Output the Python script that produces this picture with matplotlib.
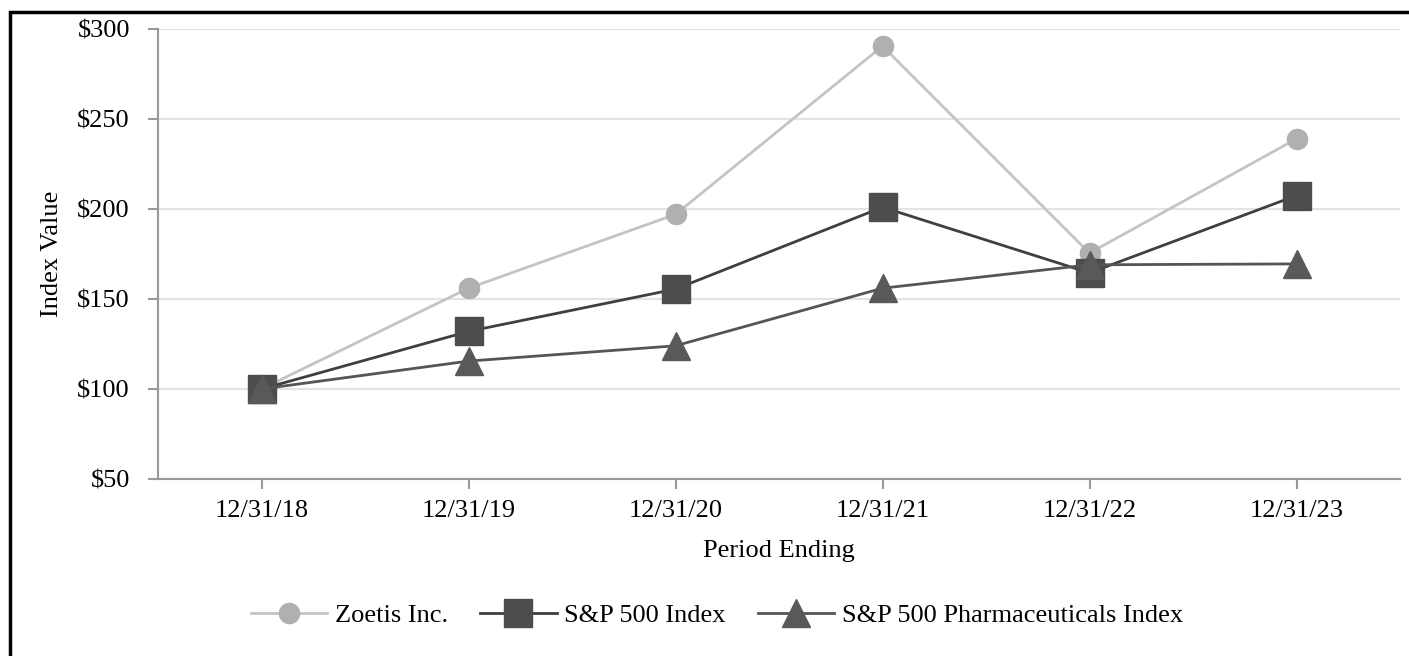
import matplotlib
matplotlib.use("Agg")
import matplotlib.pyplot as plt
from matplotlib.patches import Rectangle

periods = ["12/31/18", "12/31/19", "12/31/20", "12/31/21", "12/31/22", "12/31/23"]
zoetis = [100, 156, 197, 290.5, 175.5, 239]
sp500 = [100, 132, 155.5, 201, 164.5, 207.5]
pharma = [100, 115.5, 124, 156, 169, 169.5]
yticks = [50, 100, 150, 200, 250, 300]
ytick_labels = ["$50", "$100", "$150", "$200", "$250", "$300"]

plt.rcParams['font.family'] = ['Liberation Serif', 'DejaVu Serif']

W, H = 1409, 656
FS = 19
fig = plt.figure(figsize=(W / 100, H / 100), dpi=100)
ax = fig.add_axes([158 / W, 1 - 479 / H, (1400 - 158) / W, (479 - 29) / H])

x = list(range(len(periods)))
ax.plot(x, zoetis, color="#c4c4c4", lw=2, marker="o", ms=14.5,
        mfc="#b0b0b0", mec="#b0b0b0", label="Zoetis Inc.", zorder=3)
ax.plot(x, sp500, color="#3f3f3f", lw=2, marker="s", ms=20,
        mfc="#4d4d4d", mec="#4d4d4d", label="S&P 500 Index", zorder=4)
ax.plot(x, pharma, color="#555555", lw=2, marker="^", ms=19.5,
        mfc="#595959", mec="#595959", label="S&P 500 Pharmaceuticals Index", zorder=5)

ax.set_xlim(-0.5, 5.5)
ax.set_ylim(50, 300)
ax.set_xticks(x)
ax.set_xticklabels(periods)
ax.set_yticks(yticks)
ax.set_yticklabels([t.replace("$", r"\$") for t in ytick_labels])
ax.grid(axis="y", color="#e3e3e3", lw=1.5, zorder=0)
ax.set_axisbelow(True)
for s in ["top", "right"]:
    ax.spines[s].set_visible(False)
for s in ["left", "bottom"]:
    ax.spines[s].set_color("#999999")
    ax.spines[s].set_linewidth(1.5)
ax.tick_params(axis="both", colors="#999999", length=7.2, width=1.5,
               labelsize=FS, labelcolor="black")
ax.tick_params(axis="y", pad=13)
ax.tick_params(axis="x", pad=8)
ax.set_xlabel("Period Ending", fontsize=FS, labelpad=13)
ax.set_ylabel("Index Value", fontsize=FS, labelpad=10)

fig.legend(loc="center", bbox_to_anchor=(717 / W, 1 - 615 / H), ncol=3,
           frameon=False, fontsize=FS, handlelength=2.9, columnspacing=1.2,
           handletextpad=0.3)

fig.patches.append(Rectangle((10 / W, -0.1), 1.2, 1 - 11.5 / H + 0.1,
                             transform=fig.transFigure, fill=False,
                             edgecolor="black", lw=2.5, clip_on=False))

fig.savefig("out.png", dpi=100)
